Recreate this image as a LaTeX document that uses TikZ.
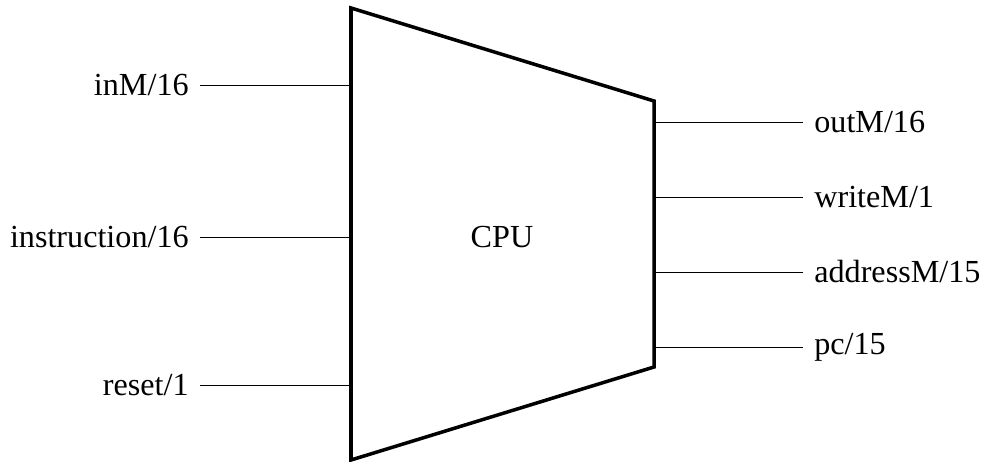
\documentclass[tikz,border=0pt]{standalone}
\usepackage{fontspec}
\setmainfont{Liberation Serif}
\usetikzlibrary{positioning, calc}
\tikzset{
    body/.style={draw=black, line width=2pt, line join=miter},
    pin/.style={draw=black, line width=0.45pt},
    pinlabel/.style={inner sep=0.22cm, font=\fontsize{18.3}{21}\selectfont},
}

\begin{document}
\begin{tikzpicture}[x=0.02cm, y=-0.02cm]
                \useasboundingbox (0,0) rectangle (984,462);

                % Chip body
                \coordinate (tl) at (351,8);
                \coordinate (tr) at (654,101);
                \coordinate (br) at (654,367);
                \coordinate (bl) at (351,460);
                \draw[body] (tl) -- (tr) -- (br) -- (bl) -- cycle;
                \node[font=\fontsize{18.3}{21}\selectfont] (cpu) at (502,237) {CPU};

                % Inputs
                \coordinate (inM) at (351,85);
                \coordinate (instruction) at (351,237);
                \coordinate (reset) at (351,385);
                \foreach \pname/\ptext in {inM/inM\slash16, instruction/instruction\slash16, reset/reset\slash1} {
                    \node[pinlabel, anchor=east] (\pname-lbl) at ($(\pname)+(-151,0)$) {\ptext};
                    \draw[pin] (\pname-lbl.east) -- (\pname);
                }

                % Outputs
                \coordinate (outM) at (654,122);
                \coordinate (writeM) at (654,197);
                \coordinate (addressM) at (654,272);
                \coordinate (pc) at (654,347);
                \foreach \pname/\ptext in {outM/outM\slash16, writeM/writeM\slash1, addressM/addressM\slash15, pc/pc\slash15} {
                    \node[pinlabel, anchor=west] (\pname-lbl) at ($(\pname)+(149,0)$) {\ptext};
                    \draw[pin] (\pname) -- (\pname-lbl.west);
                }
            \end{tikzpicture}
\end{document}
